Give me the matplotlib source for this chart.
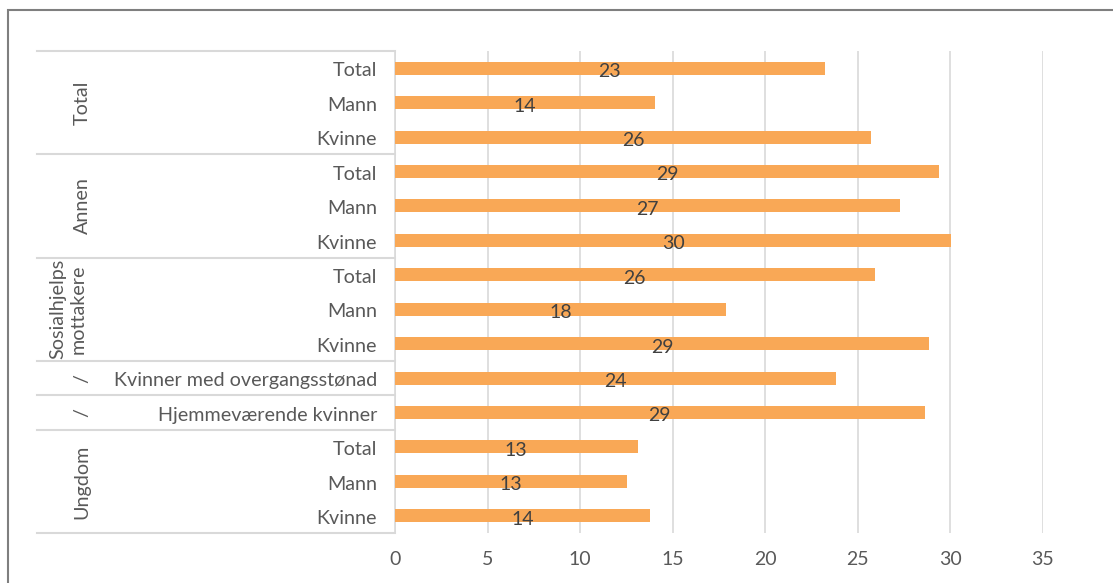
import matplotlib
matplotlib.use("Agg")
import matplotlib.pyplot as plt
import matplotlib.transforms as mtransforms
from matplotlib.lines import Line2D
from matplotlib.patches import Rectangle

plt.rcParams['font.family'] = ['Lato', 'DejaVu Sans']

# data, top to bottom
groups = ["Total", "Annen", "Sosialhjelps\nmottakere", "/", "/", "Ungdom"]
group_sizes = [3, 3, 3, 1, 1, 3]
categories = ["Total", "Mann", "Kvinne",
              "Total", "Mann", "Kvinne",
              "Total", "Mann", "Kvinne",
              "Kvinner med overgangsstønad",
              "Hjemmeværende kvinner",
              "Total", "Mann", "Kvinne"]
values = [23.2, 14.05, 25.7,
          29.4, 27.3, 30.05,
          25.9, 17.9, 28.85,
          23.8,
          28.6,
          13.1, 12.55, 13.8]

W, H = 1113, 583
fig = plt.figure(figsize=(W / 100, H / 100), dpi=100)

def fx(px):
    return px / W

def fy(py):
    return 1 - py / H

ax = fig.add_axes([fx(395), fy(533), fx(1043) - fx(395), fy(51) - fy(533)])

bar_color = "#F9A856"
grid_color = "#D9D9D9"
text_color = "#595959"

n = len(categories)
ypos = list(range(n))
ax.barh(ypos, values, height=0.38, color=bar_color, zorder=3)
for y, v in zip(ypos, values):
    ax.text(v / 2, y + 0.1, f"{round(v)}", ha="center", va="center",
            fontsize=14, color="#404040", zorder=4)

ax.set_xlim(0, 35)
ax.set_ylim(n - 0.5, -0.5)
ax.set_xticks(range(0, 36, 5))
ax.set_yticks([])
ax.xaxis.grid(True, color=grid_color, lw=1.2, zorder=0)
for s in ["top", "right", "bottom"]:
    ax.spines[s].set_visible(False)
ax.spines["left"].set_color(grid_color)
ax.spines["left"].set_linewidth(1.2)
ax.tick_params(axis="x", length=0, pad=13, labelsize=14, labelcolor=text_color)

# category table on the left
trans = mtransforms.blended_transform_factory(fig.transFigure, ax.transData)
for y, c in zip(ypos, categories):
    ax.text(fx(377), y + 0.08, c, transform=trans, ha="right", va="center",
            fontsize=14.2, color=text_color)

bounds = [-0.5]
for s in group_sizes:
    bounds.append(bounds[-1] + s)
for b in bounds:
    ax.add_line(Line2D([fx(37), fx(395)], [b, b], transform=trans,
                       color=grid_color, lw=1.5, clip_on=False))

for i, g in enumerate(groups):
    mid = (bounds[i] + bounds[i + 1]) / 2
    xg = 68 if "\n" in g else 82
    ax.text(fx(xg), mid, g, transform=trans, ha="center", va="center",
            rotation=90, fontsize=14.2, color=text_color,
            multialignment="center", linespacing=1.2)

# outer border of the chart area
fig.patches.append(Rectangle((fx(8), fy(700)), 1.2, fy(10) - fy(700),
                             transform=fig.transFigure, fill=False,
                             edgecolor="#7F7F7F", lw=1.5))

fig.savefig("out.png", dpi=100)
